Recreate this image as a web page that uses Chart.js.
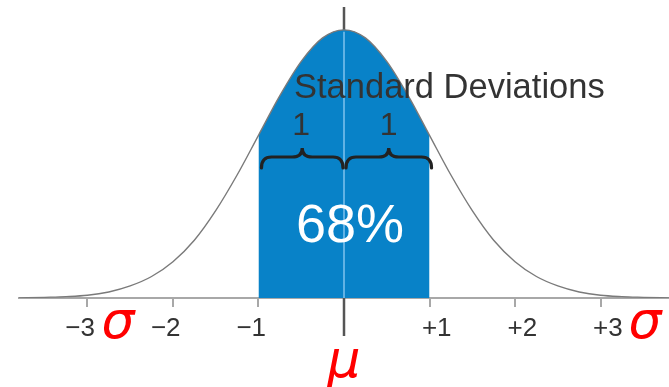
<!DOCTYPE html>
<html>
<head>
<meta charset="utf-8">
<script src="https://cdn.jsdelivr.net/npm/chart.js@4"></script>
<style>
  html, body { margin: 0; padding: 0; background: #fff; }
  canvas { display: block; }
</style>
</head>
<body>
<canvas id="bellChart" width="669" height="387"></canvas>
<script>
// Normal curve, x in standard deviations from the mean
const sigmaSteps = [-3.8, -3.5, -3.25, -3, -2.75, -2.5, -2.25, -2, -1.75, -1.5, -1.25, -1, -0.75, -0.5, -0.25,
                    0, 0.25, 0.5, 0.75, 1, 1.25, 1.5, 1.75, 2, 2.25, 2.5, 2.75, 3, 3.25, 3.5, 3.8];
const density = [0.000, 0.001, 0.002, 0.004, 0.009, 0.018, 0.032, 0.054, 0.086, 0.130, 0.183, 0.242, 0.301, 0.352, 0.387,
                 0.399, 0.387, 0.352, 0.301, 0.242, 0.183, 0.130, 0.086, 0.054, 0.032, 0.018, 0.009, 0.004, 0.002, 0.001, 0.000];
const tickValues = [-3, -2, -1, 0, 1, 2, 3];
const tickLabels = ['−3', '−2', '−1', '', '+1', '+2', '+3'];
const bandRange = [-1, 1];
const bandShare = '68%';
const braceLabels = ['1', '1'];
const titleText = 'Standard Deviations';

const curvePoints = sigmaSteps.map((x, i) => ({ x: x, y: density[i] }));
const bandPoints = curvePoints.filter(p => p.x >= bandRange[0] && p.x <= bandRange[1]);

const BLUE = 'rgb(8,130,200)';
const SANS = '"Liberation Sans", Arial, sans-serif';

function drawBrace(ctx, x1, x2, y) {
    const xm = (x1 + x2) / 2;
    ctx.beginPath();
    ctx.moveTo(x1, y + 11);
    ctx.quadraticCurveTo(x1, y, x1 + 10, y);
    ctx.lineTo(xm - 10, y);
    ctx.quadraticCurveTo(xm, y, xm, y - 9);
    ctx.quadraticCurveTo(xm, y, xm + 10, y);
    ctx.lineTo(x2 - 10, y);
    ctx.quadraticCurveTo(x2, y, x2, y + 11);
    ctx.stroke();
}

// Mean line, braces and annotations
const annotations = {
    id: 'annotations',
    beforeDatasetsDraw(chart) {
        const ctx = chart.ctx;
        const x = chart.scales.x.getPixelForValue(0);
        ctx.save();
        ctx.strokeStyle = '#555';
        ctx.lineWidth = 2.5;
        ctx.beginPath();
        ctx.moveTo(x, 7);
        ctx.lineTo(x, chart.chartArea.bottom + 38);
        ctx.stroke();
        ctx.restore();
    },
    afterDatasetsDraw(chart) {
        const ctx = chart.ctx;
        const xs = chart.scales.x, ys = chart.scales.y;
        const x0 = xs.getPixelForValue(0);
        const xl = xs.getPixelForValue(bandRange[0]);
        const xr = xs.getPixelForValue(bandRange[1]);
        const peak = ys.getPixelForValue(density[sigmaSteps.indexOf(0)]);
        const base = chart.chartArea.bottom;
        ctx.save();

        // light centre line through the shaded band
        ctx.strokeStyle = 'rgba(120,190,235,0.8)';
        ctx.lineWidth = 2;
        ctx.beginPath();
        ctx.moveTo(x0, peak + 2);
        ctx.lineTo(x0, base);
        ctx.stroke();

        // braces
        ctx.strokeStyle = '#222';
        ctx.lineWidth = 3.2;
        ctx.lineCap = 'round';
        drawBrace(ctx, xl + 3, x0 - 1, 157);
        drawBrace(ctx, x0 + 2, xr + 2, 157);

        ctx.fillStyle = '#333';
        ctx.textBaseline = 'alphabetic';
        ctx.textAlign = 'left';
        ctx.font = '34.5px ' + SANS;
        ctx.fillText(titleText, x0 - 50, 98);

        ctx.textAlign = 'center';
        ctx.font = '32px ' + SANS;
        ctx.fillText(braceLabels[0], (xl + x0) / 2, 135);
        ctx.fillText(braceLabels[1], (x0 + xr) / 2 + 2, 135);

        ctx.fillStyle = '#fff';
        ctx.font = '54px ' + SANS;
        ctx.fillText(bandShare, x0 + 6, 242);

        // mean and sigma symbols
        ctx.fillStyle = '#ff0000';
        ctx.font = 'italic 52px "DejaVu Sans", sans-serif';
        ctx.fillText('μ', x0, 377);
        ctx.textAlign = 'left';
        ctx.fillText('σ', xs.getPixelForValue(-3) + 14, 338);
        ctx.fillText('σ', xs.getPixelForValue(3) + 28, 338);
        ctx.restore();
    }
};

const ctx = document.getElementById('bellChart').getContext('2d');
new Chart(ctx, {
    type: 'line',
    data: {
        datasets: [{
            data: curvePoints,
            borderColor: '#7a7a7a',
            borderWidth: 1.4,
            pointRadius: 0,
            fill: false,
            cubicInterpolationMode: 'monotone'
        }, {
            data: bandPoints,
            borderWidth: 0,
            borderColor: BLUE,
            backgroundColor: BLUE,
            pointRadius: 0,
            fill: 'origin',
            cubicInterpolationMode: 'monotone'
        }]
    },
    options: {
        responsive: false,
        animation: false,
        layout: { padding: { top: 7, left: 19, right: 0, bottom: 0 } },
        plugins: {
            legend: { display: false },
            tooltip: { enabled: false }
        },
        scales: {
            x: {
                type: 'linear',
                min: -3.8,
                max: 3.8,
                afterFit: scale => { scale.height = 89; },
                afterBuildTicks: scale => {
                    scale.ticks = tickValues.map(v => ({ value: v }));
                },
                border: { display: true, color: '#a8a8a8', width: 2 },
                grid: {
                    drawOnChartArea: false,
                    drawTicks: true,
                    tickLength: 9,
                    color: '#a8a8a8',
                    lineWidth: 2
                },
                ticks: {
                    padding: 6,
                    maxRotation: 0,
                    autoSkip: false,
                    color: '#333',
                    font: { family: SANS, size: 26 },
                    callback: function(value) {
                        const label = tickLabels[tickValues.indexOf(value)] || '';
                        if (!label) return '';
                        // pad on the far side so the digit sits on its tick
                        return value < 0 ? label + '\u2007' : '\u2007' + label;
                    }
                }
            },
            y: {
                display: false,
                min: 0,
                max: 0.433
            }
        }
    },
    plugins: [annotations]
});
</script>
</body>
</html>
